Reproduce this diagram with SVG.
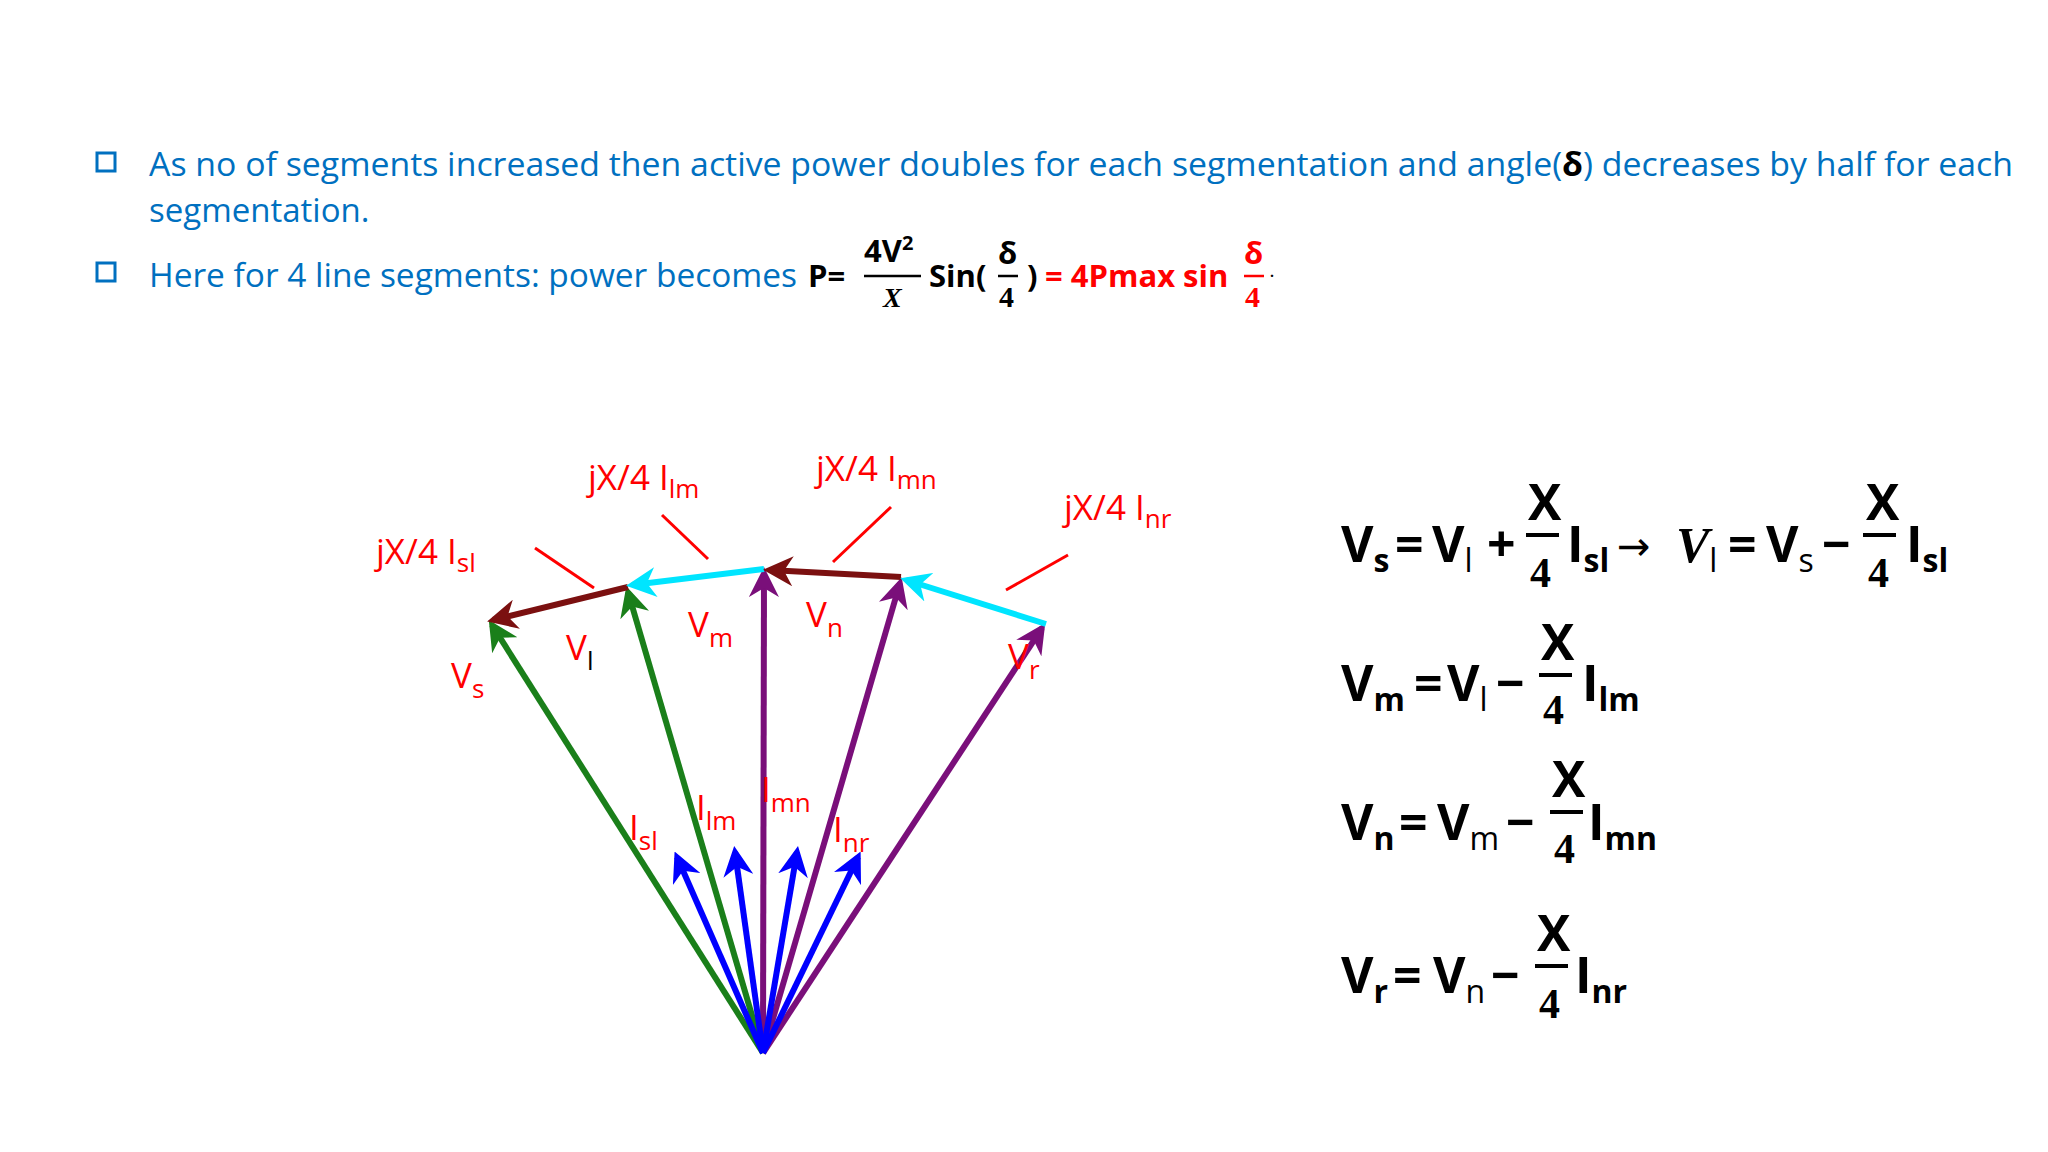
<svg xmlns="http://www.w3.org/2000/svg" width="2048" height="1152" viewBox="0 0 2048 1152">
<style>
.t{font-family:"Open Sans","Liberation Sans",sans-serif;fill:#0070c0;font-size:33px}
.lb{font-family:"Open Sans","Liberation Sans",sans-serif;fill:#ff0000;font-size:35px}
.sb{font-size:26px}
.eq{font-family:"Open Sans","Liberation Sans",sans-serif;font-weight:bold;fill:#000;font-size:50px}
.es{font-size:32px}
.en{font-weight:normal}
.num{font-family:"Liberation Serif",serif;font-weight:bold}
.lead{stroke:#ff0000;stroke-width:3}
</style>
<defs>
<marker id="mg" viewBox="0 0 10 10" refX="8" refY="5" markerWidth="5" markerHeight="5" orient="auto"><path d="M0,0L10,5L0,10L3,5z" fill="#1a7f1a"/></marker>
<marker id="mp" viewBox="0 0 10 10" refX="8" refY="5" markerWidth="5" markerHeight="5" orient="auto"><path d="M0,0L10,5L0,10L3,5z" fill="#7a0f7a"/></marker>
<marker id="mb" viewBox="0 0 10 10" refX="8" refY="5" markerWidth="5" markerHeight="5" orient="auto"><path d="M0,0L10,5L0,10L3,5z" fill="#0000ff"/></marker>
<marker id="mr" viewBox="0 0 10 10" refX="8" refY="5" markerWidth="5" markerHeight="5" orient="auto"><path d="M0,0L10,5L0,10L3,5z" fill="#7b1010"/></marker>
<marker id="mc" viewBox="0 0 10 10" refX="8" refY="5" markerWidth="5" markerHeight="5" orient="auto"><path d="M0,0L10,5L0,10L3,5z" fill="#00e5ff"/></marker>
</defs>
<rect width="2048" height="1152" fill="#fff"/>

<g id="bullets">
<rect x="97" y="153" width="18" height="18" fill="none" stroke="#0070c0" stroke-width="3"/>
<rect x="97" y="263" width="18" height="18" fill="none" stroke="#0070c0" stroke-width="3"/>
<text class="t" x="149" y="176" textLength="1864" lengthAdjust="spacingAndGlyphs">As no of segments increased then active power doubles for each segmentation and angle(<tspan fill="#000" font-weight="bold">δ</tspan>) decreases by half for each</text>
<text class="t" x="149" y="222">segmentation.</text>
<text class="t" x="149" y="287" textLength="648" lengthAdjust="spacingAndGlyphs">Here for 4 line segments: power becomes</text>
<g font-family="'Open Sans','Liberation Sans',sans-serif" font-weight="bold" font-size="31">
<text x="808" y="287">P=</text>
<text x="864" y="262">4V<tspan font-size="20" dy="-12">2</tspan></text>
<line x1="864" y1="276" x2="921" y2="276" stroke="#000" stroke-width="2.5"/>
<text x="883" y="307" font-family="'Liberation Serif',serif" font-style="italic" font-size="28">X</text>
<text x="929" y="287">Sin(</text>
<text x="998" y="264">δ</text>
<line x1="998" y1="276" x2="1018" y2="276" stroke="#000" stroke-width="2.5"/>
<text x="999" y="307" font-family="'Liberation Serif',serif" font-size="30">4</text>
<text x="1027" y="287">)</text>
<text x="1045" y="287" fill="#ff0000">= 4Pmax sin</text>
<text x="1244" y="264" fill="#ff0000">δ</text>
<line x1="1244" y1="276" x2="1264" y2="276" stroke="#ff0000" stroke-width="2.5"/>
<text x="1245" y="307" fill="#ff0000" font-family="'Liberation Serif',serif" font-size="30">4</text>
<text x="1270" y="277" font-size="14">.</text>
</g>
</g>

<g id="connectors" fill="none">
<g stroke-width="6">
<line x1="763" y1="1053" x2="492" y2="625" stroke="#1a7f1a" marker-end="url(#mg)"/>
<line x1="763" y1="1053" x2="628" y2="592" stroke="#1a7f1a" marker-end="url(#mg)"/>
<line x1="763" y1="1053" x2="764" y2="573" stroke="#7a0f7a" marker-end="url(#mp)"/>
<line x1="763" y1="1053" x2="900" y2="583" stroke="#7a0f7a" marker-end="url(#mp)"/>
<line x1="763" y1="1053" x2="1042" y2="628" stroke="#7a0f7a" marker-end="url(#mp)"/>
<line x1="628" y1="587" x2="493" y2="620" stroke="#7b1010" marker-end="url(#mr)"/>
<line x1="764" y1="569" x2="632" y2="585" stroke="#00e5ff" marker-end="url(#mc)"/>
<line x1="901" y1="577" x2="769" y2="570" stroke="#7b1010" marker-end="url(#mr)"/>
<line x1="1046" y1="624" x2="906" y2="580" stroke="#00e5ff" marker-end="url(#mc)"/>
<line x1="763" y1="1053" x2="677" y2="857" stroke="#0000ff" marker-end="url(#mb)"/>
<line x1="763" y1="1053" x2="735" y2="852" stroke="#0000ff" marker-end="url(#mb)"/>
<line x1="763" y1="1053" x2="797" y2="852" stroke="#0000ff" marker-end="url(#mb)"/>
<line x1="763" y1="1053" x2="858" y2="857" stroke="#0000ff" marker-end="url(#mb)"/>
</g>
<line class="lead" x1="535" y1="548" x2="594" y2="588"/>
<line class="lead" x1="662" y1="515" x2="708" y2="559"/>
<line class="lead" x1="891" y1="507" x2="833" y2="562"/>
<line class="lead" x1="1068" y1="555" x2="1006" y2="590"/>
</g>

<g id="labels">
<text class="lb" x="376" y="564">jX/4 I<tspan class="sb" dy="8">sl</tspan></text>
<text class="lb" x="588" y="490">jX/4 I<tspan class="sb" dy="8">lm</tspan></text>
<text class="lb" x="816" y="481">jX/4 I<tspan class="sb" dy="8">mn</tspan></text>
<text class="lb" x="1064" y="520">jX/4 I<tspan class="sb" dy="8">nr</tspan></text>
<text class="lb" x="451" y="688">V<tspan class="sb" dy="10">s</tspan></text>
<text class="lb" x="566" y="660">V<tspan class="sb" dy="10" fill="#000">l</tspan></text>
<text class="lb" x="688" y="637">V<tspan class="sb" dy="10">m</tspan></text>
<text class="lb" x="806" y="627">V<tspan class="sb" dy="10">n</tspan></text>
<text class="lb" x="1008" y="669">V<tspan class="sb" dy="10">r</tspan></text>
<text class="lb" x="629" y="840">I<tspan class="sb" dy="10">sl</tspan></text>
<text class="lb" x="696" y="820">I<tspan class="sb" dy="10">lm</tspan></text>
<text class="lb" x="761" y="802">I<tspan class="sb" dy="10">mn</tspan></text>
<text class="lb" x="833" y="842">I<tspan class="sb" dy="10">nr</tspan></text>
</g>

<g id="eq1" class="eq">
<text x="1341" y="562">V<tspan class="es" dy="10">s</tspan></text>
<text x="1395" y="562">=</text>
<text x="1432" y="562">V<tspan class="es en" dy="10">l</tspan></text>
<text x="1487" y="562">+</text>
<text x="1528" y="520">X</text>
<line x1="1526" y1="535" x2="1559" y2="535" stroke="#000" stroke-width="4"/>
<text class="num" x="1530" y="587" font-size="42">4</text>
<text x="1567" y="562">I<tspan class="es" dy="10">sl</tspan></text>
<text x="1617" y="560" class="en" font-family="'DejaVu Sans',sans-serif" font-size="40">→</text>
<text x="1676" y="562" font-family="'Liberation Serif',serif" font-style="italic">V<tspan class="es en" font-style="normal" font-family="'Open Sans',sans-serif" dy="10">l</tspan></text>
<text x="1728" y="562">=</text>
<text x="1766" y="562">V<tspan class="es en" dy="10">s</tspan></text>
<text x="1822" y="562">−</text>
<text x="1866" y="520">X</text>
<line x1="1863" y1="535" x2="1896" y2="535" stroke="#000" stroke-width="4"/>
<text class="num" x="1868" y="587" font-size="42">4</text>
<text x="1906" y="562">I<tspan class="es" dy="10">sl</tspan></text>
</g>
<g id="eq2" class="eq">
<text x="1341" y="701">V<tspan class="es" dy="10">m</tspan></text>
<text x="1414" y="701">=</text>
<text x="1447" y="701">V<tspan class="es en" dy="10">l</tspan></text>
<text x="1496" y="701">−</text>
<text x="1541" y="660">X</text>
<line x1="1539" y1="675" x2="1572" y2="675" stroke="#000" stroke-width="4"/>
<text class="num" x="1543" y="724" font-size="42">4</text>
<text x="1582" y="701">I<tspan class="es" dy="10">lm</tspan></text>
</g>
<g id="eq3" class="eq">
<text x="1341" y="840">V<tspan class="es" dy="10">n</tspan></text>
<text x="1399" y="840">=</text>
<text x="1437" y="840">V<tspan class="es en" dy="10">m</tspan></text>
<text x="1506" y="840">−</text>
<text x="1552" y="797">X</text>
<line x1="1550" y1="812" x2="1583" y2="812" stroke="#000" stroke-width="4"/>
<text class="num" x="1554" y="863" font-size="42">4</text>
<text x="1588" y="840">I<tspan class="es" dy="10">mn</tspan></text>
</g>
<g id="eq4" class="eq">
<text x="1341" y="993">V<tspan class="es" dy="10">r</tspan></text>
<text x="1393" y="993">=</text>
<text x="1433" y="993">V<tspan class="es en" dy="10">n</tspan></text>
<text x="1491" y="993">−</text>
<text x="1537" y="951">X</text>
<line x1="1535" y1="966" x2="1568" y2="966" stroke="#000" stroke-width="4"/>
<text class="num" x="1539" y="1018" font-size="42">4</text>
<text x="1575" y="993">I<tspan class="es" dy="10">nr</tspan></text>
</g>
</svg>
